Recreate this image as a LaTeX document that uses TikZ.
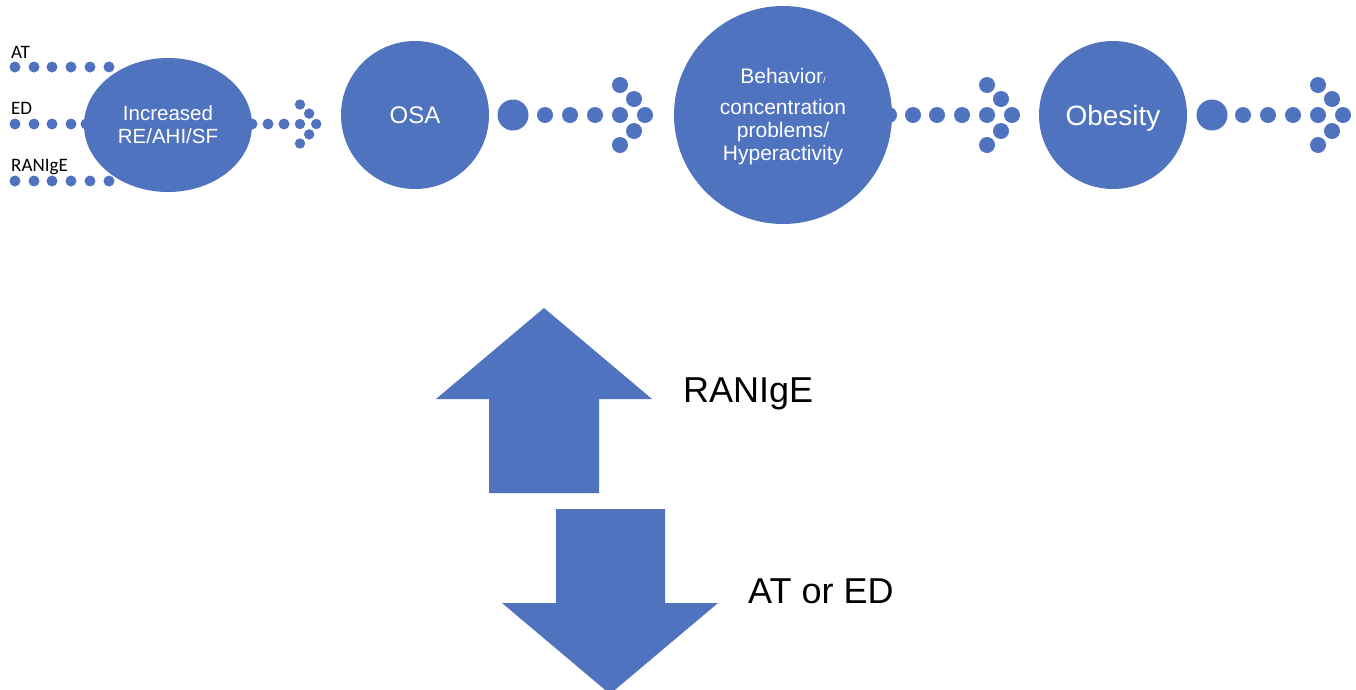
\documentclass[tikz,border=0pt]{standalone}
\usepackage{fontspec}
\setmainfont{Liberation Sans}
\newfontfamily\calibri{Carlito}
\usepackage{tikz}
\usetikzlibrary{
	scopes, backgrounds,
	shapes.geometric
}
\definecolor{azul}{RGB}{79,115,190}
\def\W{1356}
\def\H{689}

\begin{document}
\begin{tikzpicture}[
	x = 1pt, y = -1pt,
	burbuja/.style = {
		circle, fill = azul, text = white,
		inner sep = 0pt, align = center
	},
	punto/.style = {fill = azul},
	etiqueta/.style = {
		inner sep = 0pt, anchor = base west,
		font = \calibri\fontsize{19}{22}\selectfont
	},
	rotulo/.style = {
		inner sep = 0pt, anchor = base west,
		font = \fontsize{36}{40}\selectfont
	},
	cabeza/.pic = {
		\foreach \x/\y in {0/-30, 14/-16, 0/0, 25/0, 14/16, 0/30}
			\fill[punto] (\x,\y) circle (8);
	},
]

	% márgenes del dibujo
	\useasboundingbox (0,0) rectangle (\W,\H);

	% etapas
	\node[burbuja, ellipse,
		minimum width = 168pt, minimum height = 134pt,
		font = \fontsize{20.5}{23}\selectfont]
		(RE) at (168,125) {Increased\\RE/AHI/SF};
	\node[burbuja, minimum size = 148pt,
		font = \fontsize{24}{28}\selectfont]
		(OSA) at (415,115) {OSA};
	\node[burbuja, minimum size = 218pt,
		font = \fontsize{21}{23}\selectfont]
		(BH) at (783,115) {};
	\node[text = white, align = center, yshift = -2pt,
		font = \fontsize{21}{23}\selectfont]
		(BHt) at (BH) 
		{Behavior{\fontsize{9}{9}\selectfont/}\\[8pt]
		 concentration\\problems/\\Hyperactivity};
	\node[burbuja, minimum size = 148pt,
		font = \fontsize{28}{32}\selectfont]
		(OB) at (1113,115) {};
	\node[text = white, yshift = -3pt,
		font = \fontsize{28}{32}\selectfont]
		(OBt) at (OB) {Obesity};

	% etiquetas de entrada
	\node[etiqueta] (AT) at (11,58) {AT};
	\node[etiqueta] (ED) at (11,114) {ED};
	\node[etiqueta] (IgE) at (11,171) {RANIgE};

	% flechas de puntos
	{[on background layer]

	\foreach \y in {67,181}
		\foreach \x in {15,34,52,71,90,109}
			\fill[punto] (\x,\y) circle (5.5);
	\foreach \x in {15,34,52,71,86}
		\fill[punto] (\x,124) circle (5.5);

	\foreach \x in {252,268,284}
		\fill[punto] (\x,124) circle (5.5);
	\pic[scale = 0.65] at (300,124) {cabeza};

	\fill[punto] (513,115) circle (15.5);
	\foreach \x in {545,570,595}
		\fill[punto] (\x,115) circle (8);
	\pic at (620,115) {cabeza};

	\foreach \x in {889,913,937,962}
		\fill[punto] (\x,115) circle (8);
	\pic at (987,115) {cabeza};

	\fill[punto] (1212,115) circle (15.5);
	\foreach \x in {1243,1268,1293}
		\fill[punto] (\x,115) circle (8);
	\pic at (1318,115) {cabeza};
	}

	% flecha hacia arriba
	\fill[azul]
		(489,493) -- (489,399) -- (436,399) -- (544,308)
		-- (652,399) -- (599,399) -- (599,493) -- cycle;
	\node[rotulo] (sube) at (683,402) {RANIgE};

	% flecha hacia abajo
	\fill[azul]
		(556,509) -- (665,509) -- (665,603) -- (718,603)
		-- (610,694) -- (502,603) -- (556,603) -- cycle;
	\node[rotulo] (baja) at (748,603) {AT or ED};

\end{tikzpicture}
\end{document}
